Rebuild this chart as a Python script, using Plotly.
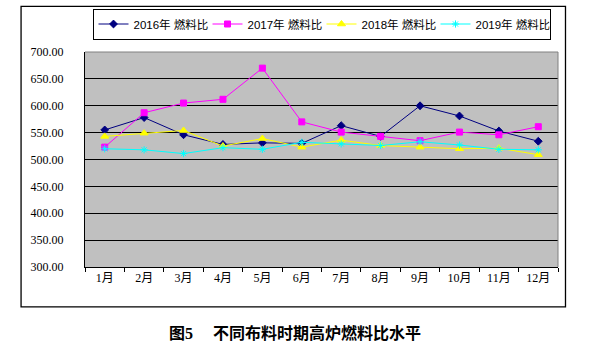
import plotly.graph_objects as go

months = ["1月", "2月", "3月", "4月", "5月", "6月", "7月", "8月", "9月", "10月", "11月", "12月"]
s2016 = [555, 578, 546, 528, 531, 530, 563, 543, 600, 581, 553, 534]
s2017 = [523, 587, 605, 612, 670, 570, 551, 543, 535, 551, 546, 561]
s2018 = [543, 549, 554, 525, 539, 523, 536, 526, 523, 520, 521, 509]
s2019 = [520, 518, 511, 522, 519, 532, 529, 526, 533, 527, 519, 518]
names = ["2016年 燃料比", "2017年 燃料比", "2018年 燃料比", "2019年 燃料比"]
y_ticks = [300, 350, 400, 450, 500, 550, 600, 650, 700]

colors = ["#000080", "#FF00FF", "#FFFF00", "#00FFFF"]
symbols = ["diamond", "square", "triangle-up", "asterisk-open"]
sizes = [6, 6, 7, 6]

SERIF = "'Liberation Serif', 'Noto Sans CJK SC', serif"
SANS = "'Liberation Sans', 'Noto Sans CJK SC', sans-serif"

fig = go.Figure()
for name, vals, c, s, sz in zip(names, [s2016, s2017, s2018, s2019], colors, symbols, sizes):
    fig.add_trace(go.Scatter(
        x=months, y=vals, name=name, mode="lines+markers",
        line=dict(color=c, width=1),
        marker=dict(symbol=s, size=sz, color=c, line=dict(color=c, width=1)),
    ))

L, R, T, B = 84.5, 43, 51.7, 81
W, H = 601, 348
pw = W - L - R
ph = H - T - B

def px(x):
    return (x - L) / pw

def py(y):
    return (H - B - y) / ph

fig.update_layout(
    width=W, height=H,
    margin=dict(l=L, r=R, t=T, b=B, pad=0, autoexpand=False),
    paper_bgcolor="white",
    plot_bgcolor="#C0C0C0",
    font=dict(family=SERIF, size=12, color="black"),
    showlegend=True,
    legend=dict(
        orientation="h", xref="container", yref="container",
        x=92.5 / W, y=1 - 8.5 / H, xanchor="left", yanchor="top",
        bordercolor="black", borderwidth=1, bgcolor="white",
        font=dict(family=SANS, size=11.5),
        entrywidth=69, entrywidthmode="pixels",
        itemwidth=30, tracegroupgap=0,
    ),
    xaxis=dict(
        type="category", range=[-0.5, 11.5],
        showline=True, linecolor="black", linewidth=1,
        ticks="outside", ticklen=4, tickcolor="black", tickson="boundaries",
        showgrid=False, mirror=False,
        tickfont=dict(family=SERIF, size=12),
    ),
    yaxis=dict(
        range=[300, 700], tickvals=y_ticks,
        ticktext=[f"{v:.2f}" for v in y_ticks],
        showline=True, linecolor="black", linewidth=1,
        showgrid=True, gridcolor="black", gridwidth=1,
        ticks="", ticklabelstandoff=18, zeroline=False,
        tickfont=dict(family=SERIF, size=12),
    ),
)

# gray top/right border of plot area
fig.add_shape(type="line", xref="paper", yref="paper", x0=0, x1=1, y0=1, y1=1,
              line=dict(color="#808080", width=1))
fig.add_shape(type="line", xref="paper", yref="paper", x0=1, x1=1, y0=0, y1=1,
              line=dict(color="#808080", width=1))
# outer frame
fig.add_shape(type="rect", xref="paper", yref="paper",
              x0=px(20.5), x1=px(565.5), y0=py(307), y1=py(6),
              line=dict(color="black", width=1.3), layer="below")

fig.add_annotation(
    text="<b>图5\u3000 不同布料时期高炉燃料比水平</b>",
    xref="paper", yref="paper", x=px(295), y=py(333),
    xanchor="center", yanchor="middle", showarrow=False,
    font=dict(family=SERIF, size=16, color="black"),
)

fig.write_html("out.html")
